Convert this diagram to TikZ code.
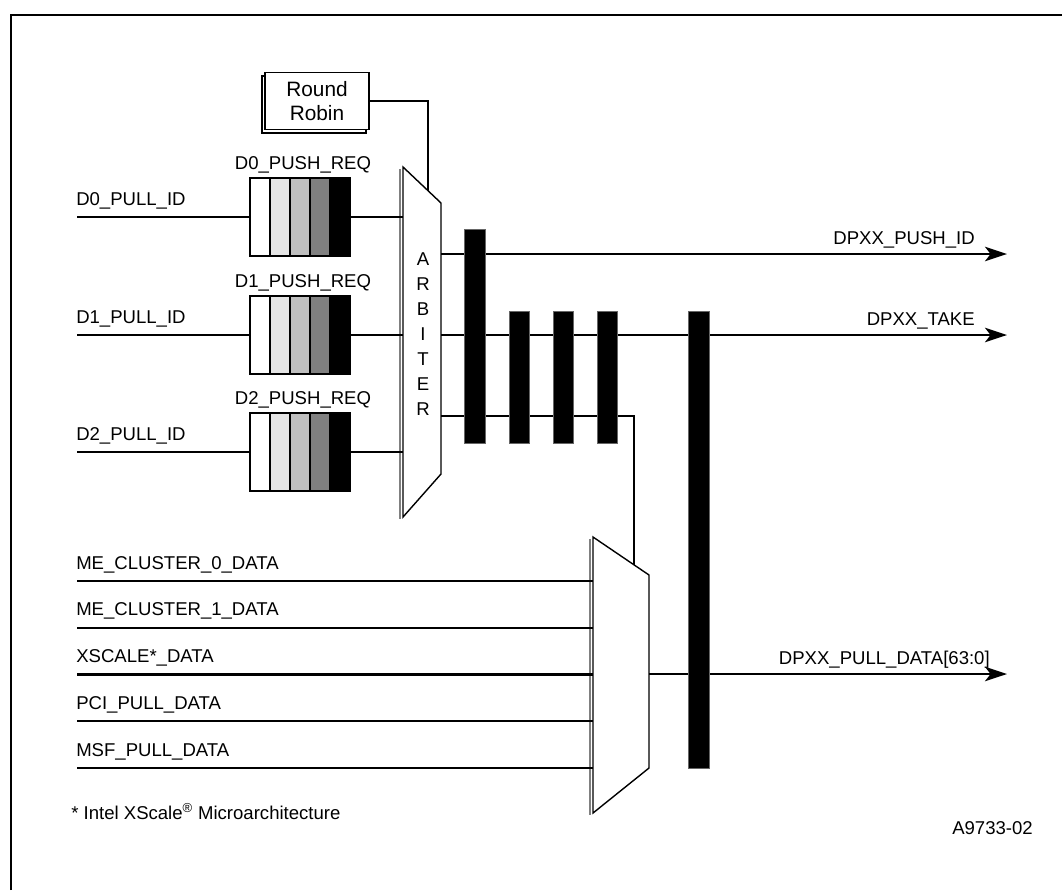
\documentclass[tikz,border=0pt]{standalone}
\usepackage{fontspec}
\setmainfont{Liberation Sans}
\usetikzlibrary{positioning, arrows.meta, calc}

\begin{document}
\begin{tikzpicture}[
  x=0.25mm, y=-0.25mm,
  font=\fontsize{13.2}{15}\selectfont,
  wire/.style={line width=0.55mm},
  sig/.style={wire, -{Stealth[length=5.5mm, width=3.6mm, inset=1.4mm]}},
  cell/.style={draw, line width=0.35mm, minimum width=5mm, minimum height=19.5mm,
               inner sep=0pt, outer sep=0pt},
  bar/.style={fill=black, draw=black!60, line width=0.2mm},
  mux/.style={draw, line width=0.35mm, fill=white},
  lbl/.style={inner sep=0pt, anchor=base west},
  rlbl/.style={inner sep=0pt, anchor=base east},
]
\useasboundingbox (0,0) rectangle (1062,890);
\draw[wire] (11,890) -- (11,15) -- (1062,15);

% round robin
\draw[line width=0.35mm] (262,76) rectangle (366,133);
\node[draw, fill=white, line width=0.35mm, minimum width=26mm, minimum height=14.25mm,
      align=center, font=\fontsize{14.8}{17}\selectfont] (rr) at (317,101) {Round\\Robin};

% arbiter
\coordinate (arbTL) at (403,167);
\coordinate (arbTR) at (441,203);
\coordinate (arbBR) at (441,474);
\coordinate (arbBL) at (403,517);
\draw[line width=0.35mm, gray] (400,169) -- (400,519);
\draw[mux] (arbTL) -- (arbTR) -- (arbBR) -- (arbBL) -- cycle;
\node[align=center, inner sep=0pt, font=\fontsize{13.2}{17.8}\selectfont] (arbtxt) at (423,334)
  {A\\R\\B\\I\\T\\E\\R};
\coordinate (rrin) at ($(arbTL)!0.66!(arbTR)$);
\draw[wire] (rr.east) -| (rrin);

% push request queues
\foreach \q/\yy in {0/217, 1/335, 2/452} {
  \foreach \c/\shade in {0/0, 1/10, 2/25, 3/50, 4/100}
    \node[cell, fill=black!\shade] (q\q c\c) at ({260+20*\c}, \yy) {};
  \node[inner sep=0pt, anchor=base] (pr\q) at (303, \yy-48) {D\q\_PUSH\_REQ};
  \node[lbl] (pl\q) at (76, \yy-12) {D\q\_PULL\_ID};
  \coordinate (in\q) at (77, \yy);
  \coordinate (arb\q) at (403, \yy);
  \draw[wire] (in\q) -- (q\q c0.west);
  \draw[wire] (q\q c4.east) -- (arb\q);
}

% arbiter outputs
\coordinate (pushid) at (441,254);
\coordinate (take) at (441,335);
\coordinate (sel) at (441,416);
\coordinate (pushidend) at (1007,254);
\coordinate (takeend) at (1007,335);
\draw[sig] (pushid) -- (pushidend);
\draw[sig] (take) -- (takeend);
\node[rlbl] (pushidlbl) at (975,244) {DPXX\_PUSH\_ID};
\node[rlbl] (takelbl) at (975,325) {DPXX\_TAKE};

% data mux
\coordinate (muxTL) at (593,537);
\coordinate (muxTR) at (649,575);
\coordinate (muxBR) at (649,768);
\coordinate (muxBL) at (593,813);
\coordinate (muxsel) at ($(muxTL)!0.73!(muxTR)$);
\draw[wire] (sel) -| (muxsel);
\draw[line width=0.35mm, gray] (590,539) -- (590,815);
\draw[mux] (muxTL) -- (muxTR) -- (muxBR) -- (muxBL) -- cycle;

\foreach \name [count=\i from 0] in {ME\_CLUSTER\_0\_DATA, ME\_CLUSTER\_1\_DATA,
    XSCALE*\_DATA, PCI\_PULL\_DATA, MSF\_PULL\_DATA} {
  \coordinate (din\i) at (77, {581+46.75*\i});
  \coordinate (mux\i) at (593, {581+46.75*\i});
  \draw[wire] (din\i) -- (mux\i);
  \node[lbl] (dl\i) at (76, {581+46.75*\i-12}) {\name};
}
\coordinate (muxout) at (649,674);
\coordinate (dataend) at (1007,674);
\draw[sig] (muxout) -- (dataend);
\node[rlbl] (datalbl) at (990,664) {DPXX\_PULL\_DATA[63:0]};

% pipeline bars
\draw[bar] (464,229) rectangle (485,443);
\foreach \bx in {509, 553, 597}
  \draw[bar] (\bx,311) rectangle (\bx+20,443);
\draw[bar] (688,311) rectangle (709,768);

% notes
\node[lbl] (fn) at (71,819) {* Intel XScale\textsuperscript{®} Microarchitecture};
\node[rlbl] (fig) at (1033,834) {A9733-02};
\end{tikzpicture}
\end{document}
